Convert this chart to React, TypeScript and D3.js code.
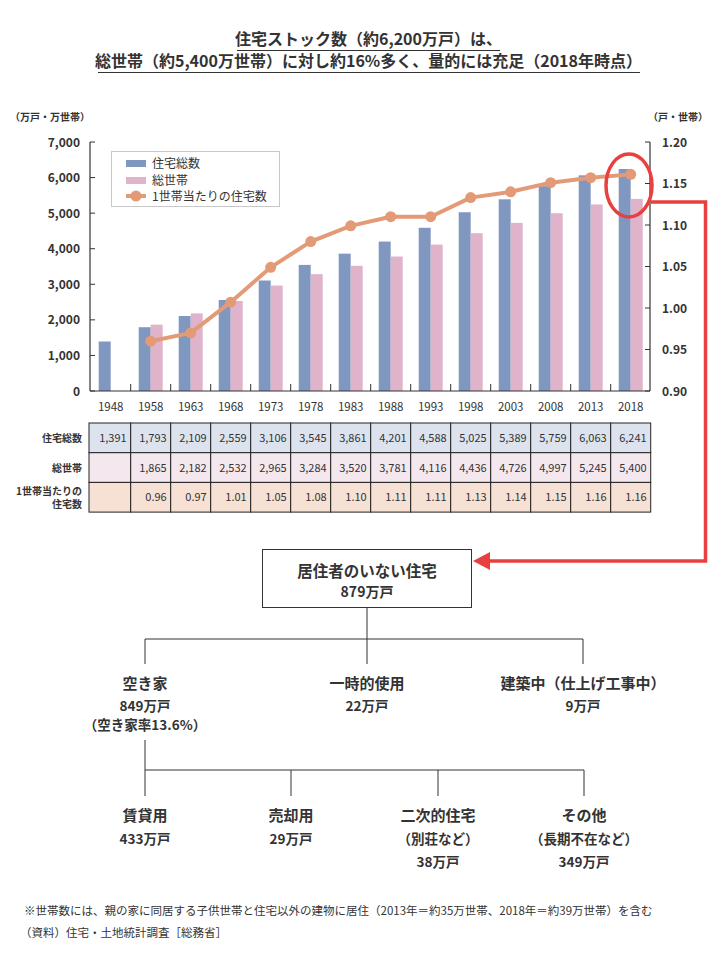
import React from "react";
import * as d3 from "d3";

const years = ["1948","1958","1963","1968","1973","1978","1983","1988","1993","1998","2003","2008","2013","2018"];
const housing = [1391,1793,2109,2559,3106,3545,3861,4201,4588,5025,5389,5759,6063,6241];
const households: (number|null)[] = [null,1865,2182,2532,2965,3284,3520,3781,4116,4436,4726,4997,5245,5400];
const perHousehold: (number|null)[] = [null,0.96,0.97,1.007,1.049,1.08,1.099,1.11,1.11,1.133,1.14,1.151,1.157,1.161];
const leftTicks = [0,1000,2000,3000,4000,5000,6000,7000];
const rightTicks = [0.90,0.95,1.00,1.05,1.10,1.15,1.20];
const legendLabels = ["住宅総数","総世帯","1世帯当たりの住宅数"];
const rowLabels = [["住宅総数"],["総世帯"],["1世帯当たりの","住宅数"]];
const titleLines = ["住宅ストック数（約6,200万戸）は、","総世帯（約5,400万世帯）に対し約16%多く、量的には充足（2018年時点）"];
const rootNode = ["居住者のいない住宅","879万戸"];
const tier1 = [
  { name: "空き家", lines: ["849万戸","（空き家率13.6%）"] },
  { name: "一時的使用", lines: ["22万戸"] },
  { name: "建築中（仕上げ工事中）", lines: ["9万戸"] },
];
const tier2 = [
  { name: "賃貸用", lines: ["433万戸"] },
  { name: "売却用", lines: ["29万戸"] },
  { name: "二次的住宅", lines: ["（別荘など）","38万戸"] },
  { name: "その他", lines: ["（長期不在など）","349万戸"] },
];
const footnotes = ["※世帯数には、親の家に同居する子供世帯と住宅以外の建物に居住（2013年＝約35万世帯、2018年＝約39万世帯）を含む","（資料）住宅・土地統計調査［総務省］"];

const FONT = '"Noto Sans CJK JP", "Noto Sans", sans-serif';
const TXT = "#333";
const BLUE = "#8097c0";
const PINK = "#dfb4cb";
const LINE = "#e39a77";
const RED = "#e8403f";

export default function App() {
  const plotTop = 142, plotBottom = 391, axL = 90, axR = 650;
  const x = d3.scaleBand<string>().domain(years).range([90.7, 650.7]).padding(0);
  const yL = d3.scaleLinear().domain([0, 7000]).range([plotBottom, plotTop]);
  const yR = d3.scaleLinear().domain([0.9, 1.2]).range([plotBottom, plotTop]);
  const bw = 12;
  const cx = (yr: string) => (x(yr) as number) + x.bandwidth() / 2;
  const linePts = years.map((yr, i) => ({ yr, v: perHousehold[i] })).filter(d => d.v != null) as {yr:string, v:number}[];
  const lineGen = d3.line<{yr:string,v:number}>().x(d => cx(d.yr)).y(d => yR(d.v));
  const fmt = d3.format(",");

  const tableTop = 423, rowH = 29.7;
  const rowFills = ["#dde3ee", "#f5e7ee", "#f6e1d4"];
  const rowValues: string[][] = [
    housing.map(v => fmt(v)),
    households.map(v => (v == null ? "" : fmt(v))),
    perHousehold.map(v => (v == null ? "" : v.toFixed(2))),
  ];

  const t1x = [145, 367, 583];
  const t2x = [145, 291, 438, 584];

  return (
    <svg width={723} height={970} style={{ position: "absolute", left: 0, top: 0, background: "#fff" }} fontFamily={FONT}>
      {/* Title */}
      {titleLines.map((t, i) => (
        <text key={i} x={368.5} y={45 + i * 22} textAnchor="middle" fontSize={16} fontWeight="bold" fill={TXT}>{t}</text>
      ))}
      <line x1={237} x2={500} y1={50.5} y2={50.5} stroke={TXT} strokeWidth={1} />
      <line x1={98} x2={640} y1={72.5} y2={72.5} stroke={TXT} strokeWidth={1} />

      {/* unit labels */}
      <text x={10} y={121} fontSize={10} fontWeight="bold" fill={TXT}>（万戸・万世帯）</text>
      <text x={648} y={121} fontSize={10} fontWeight="bold" fill={TXT}>（戸・世帯）</text>

      {/* bars */}
      {years.map((yr, i) => (
        <g key={yr}>
          <rect x={cx(yr) - bw} y={yL(housing[i])} width={bw} height={plotBottom - yL(housing[i])} fill={BLUE} />
          {households[i] != null && (
            <rect x={cx(yr)} y={yL(households[i] as number)} width={bw} height={plotBottom - yL(households[i] as number)} fill={PINK} />
          )}
        </g>
      ))}

      {/* axes */}
      <line x1={axL} x2={axL} y1={plotTop} y2={plotBottom} stroke={TXT} strokeWidth={1.2} />
      <line x1={axR} x2={axR} y1={plotTop} y2={plotBottom} stroke={TXT} strokeWidth={1.2} />
      <line x1={axL} x2={axR} y1={plotBottom} y2={plotBottom} stroke={TXT} strokeWidth={1.2} />
      {leftTicks.map(t => (
        <g key={t}>
          <line x1={axL} x2={axL + 5} y1={yL(t)} y2={yL(t)} stroke={TXT} />
          <text x={80} y={yL(t) + 4.5} textAnchor="end" fontSize={12} fontWeight="bold" fill={TXT}>{fmt(t)}</text>
        </g>
      ))}
      {rightTicks.map(t => (
        <g key={t}>
          <line x1={axR - 5} x2={axR} y1={yR(t)} y2={yR(t)} stroke={TXT} />
          <text x={662} y={yR(t) + 4.5} textAnchor="start" fontSize={12} fontWeight="bold" fill={TXT}>{t.toFixed(2)}</text>
        </g>
      ))}
      {years.slice(1).map(yr => (
        <line key={yr} x1={x(yr) as number} x2={x(yr) as number} y1={plotBottom - 7} y2={plotBottom} stroke={TXT} />
      ))}
      {years.map(yr => (
        <text key={yr} x={cx(yr)} y={411} textAnchor="middle" fontSize={11.5} fill={TXT}>{yr}</text>
      ))}

      {/* line */}
      <path d={lineGen(linePts) as string} fill="none" stroke={LINE} strokeWidth={4} strokeLinejoin="round" />
      {linePts.map(d => (
        <circle key={d.yr} cx={cx(d.yr)} cy={yR(d.v)} r={5.5} fill={LINE} />
      ))}

      {/* legend */}
      <rect x={111.5} y={151.5} width={168} height={55} fill="#fff" stroke="#c8c8c8" />
      <rect x={126} y={160} width={20} height={7} fill={BLUE} />
      <rect x={126} y={177} width={20} height={7} fill={PINK} />
      <line x1={126} x2={146} y1={196} y2={196} stroke={LINE} strokeWidth={4} />
      <circle cx={136} cy={196} r={5.5} fill={LINE} />
      {legendLabels.map((l, i) => (
        <text key={l} x={152} y={168 + i * 16.5} fontSize={12} fill={TXT}>{l}</text>
      ))}

      {/* table */}
      {rowValues.map((row, r) => (
        <g key={r}>
          {years.map((yr, c) => {
            const x0 = c === 0 ? 89 : (x(yr) as number);
            const x1 = (x(yr) as number) + x.bandwidth();
            return (
              <g key={yr}>
                <rect x={x0} y={tableTop + r * rowH} width={x1 - x0} height={rowH} fill={rowFills[r]} stroke="#222" strokeWidth={1} />
                <text x={x1 - 4} y={tableTop + r * rowH + rowH / 2 + 4} textAnchor="end" fontSize={11} fill={TXT}>{row[c]}</text>
              </g>
            );
          })}
          {rowLabels[r].map((l, k) => (
            <text key={k} x={82} y={tableTop + r * rowH + rowH / 2 + 4 + (rowLabels[r].length > 1 ? (k - 0.5) * 13.5 : 0)} textAnchor="end" fontSize={10} fontWeight="bold" fill={TXT}>{l}</text>
          ))}
        </g>
      ))}

      {/* red highlight */}
      <ellipse cx={629} cy={185.5} rx={23} ry={31.5} fill="none" stroke={RED} strokeWidth={3.5} />
      <polyline points="651,202 705.5,202 705.5,561 488,561" fill="none" stroke={RED} strokeWidth={3.5} />
      <polygon points="473,561 490,552 490,570" fill={RED} />

      {/* tree root */}
      <rect x={262.5} y={549.5} width={209} height={58} fill="#fff" stroke={TXT} strokeWidth={1} />
      <text x={367} y={577} textAnchor="middle" fontSize={15.5} fontWeight="bold" fill={TXT}>{rootNode[0]}</text>
      <text x={367} y={597} textAnchor="middle" fontSize={14} fontWeight="bold" fill={TXT}>{rootNode[1]}</text>

      <g stroke={TXT} strokeWidth={1} fill="none">
        <line x1={367} x2={367} y1={608} y2={664} />
        <line x1={t1x[0]} x2={t1x[2]} y1={639} y2={639} />
        <line x1={t1x[0]} x2={t1x[0]} y1={639} y2={664} />
        <line x1={t1x[2]} x2={t1x[2]} y1={639} y2={664} />
        <line x1={t2x[0]} x2={t2x[0]} y1={740} y2={796} />
        <line x1={t2x[0]} x2={t2x[3]} y1={770} y2={770} />
        {t2x.slice(1).map(v => <line key={v} x1={v} x2={v} y1={770} y2={796} />)}
      </g>

      {tier1.map((n, i) => (
        <g key={n.name}>
          <text x={t1x[i]} y={689} textAnchor="middle" fontSize={15} fontWeight="bold" fill={TXT}>{n.name}</text>
          {n.lines.map((l, k) => (
            <text key={k} x={t1x[i]} y={711 + k * 19} textAnchor="middle" fontSize={13.5} fontWeight="bold" fill={TXT}>{l}</text>
          ))}
        </g>
      ))}
      {tier2.map((n, i) => (
        <g key={n.name}>
          <text x={t2x[i]} y={821} textAnchor="middle" fontSize={15} fontWeight="bold" fill={TXT}>{n.name}</text>
          {n.lines.map((l, k) => (
            <text key={k} x={t2x[i]} y={844 + k * 23} textAnchor="middle" fontSize={13.5} fontWeight="bold" fill={TXT}>{l}</text>
          ))}
        </g>
      ))}

      {footnotes.map((f, i) => (
        <text key={i} x={i === 0 ? 24 : 20} y={915 + i * 22} fontSize={11.5} fill={TXT}>{f}</text>
      ))}
    </svg>
  );
}
